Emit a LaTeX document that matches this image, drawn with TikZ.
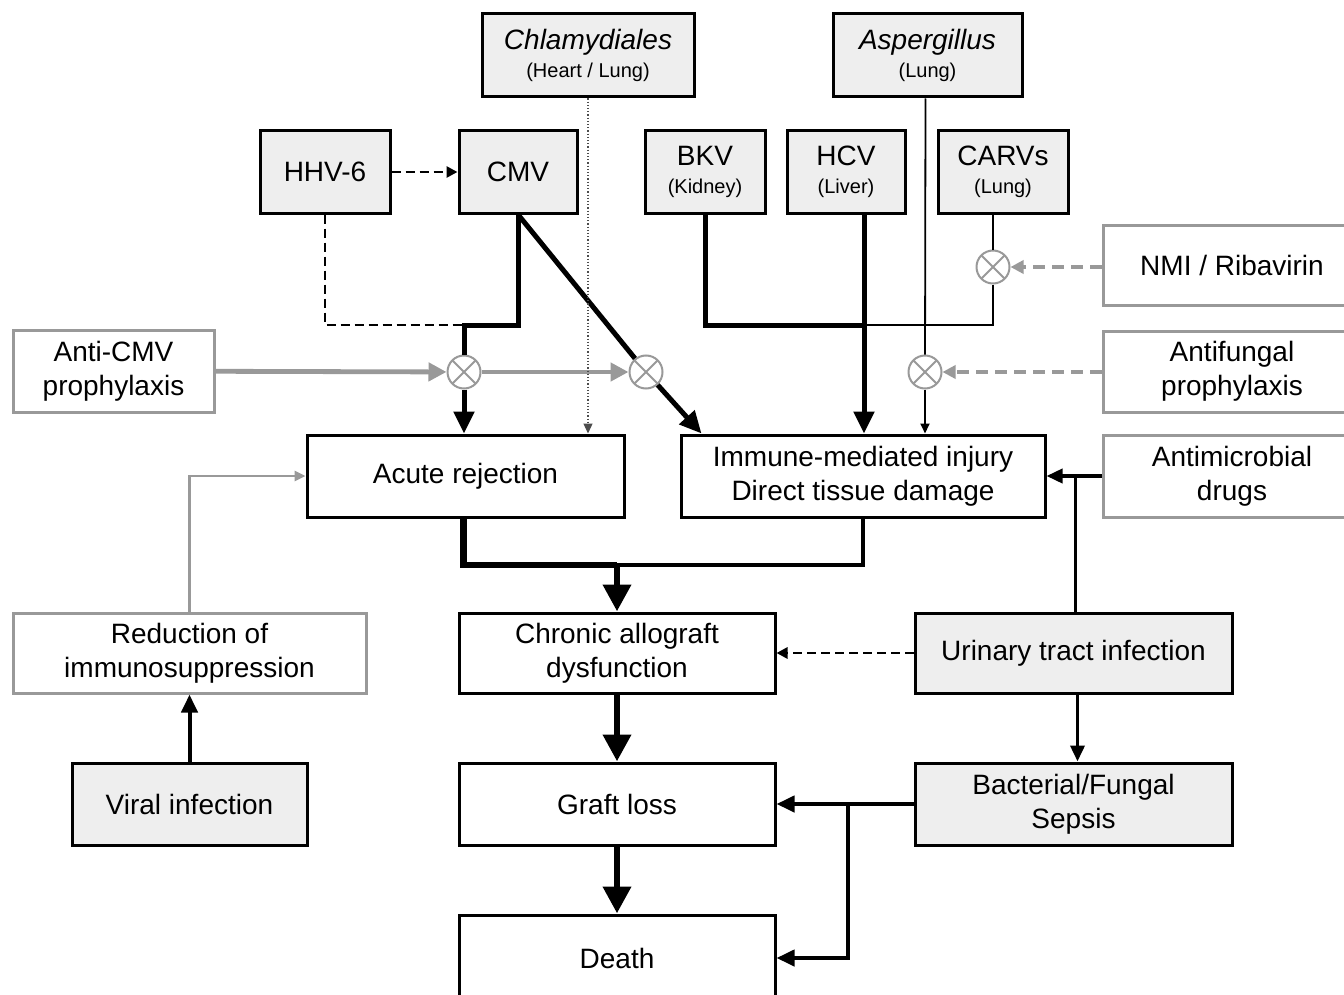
\documentclass[tikz,border=0pt]{standalone}
\usepackage{fontspec}
\setmainfont{Liberation Sans}
\usetikzlibrary{arrows.meta,calc}
\definecolor{fillg}{HTML}{EEEEEE}
\definecolor{lineg}{HTML}{999999}
\begin{document}
\begin{tikzpicture}[x=0.5pt,y=-0.5pt,
  box/.style={draw,line width=1.5pt,inner sep=0pt,align=center,font=\fontsize{14}{17}\selectfont},
  gbox/.style={box,fill=fillg},
  wbox/.style={box,fill=white},
  lbox/.style={box,draw=lineg,fill=white},
  xc/.style={circle,draw=lineg,line width=1pt,fill=white,minimum size=16.5pt,inner sep=0pt,
    path picture={\draw[lineg,line width=1pt] (path picture bounding box.north west) -- (path picture bounding box.south east)
      (path picture bounding box.north east) -- (path picture bounding box.south west);}},
  vthk/.style={line width=3.4pt,-{Triangle[length=13.5pt,width=13.5pt]}},
  vthkL/.style={line width=3.4pt},
  thk/.style={line width=2.5pt},
  thkA/.style={line width=2.5pt,-{Triangle[length=11pt,width=10pt]}},
  medA/.style={line width=2pt,-{Triangle[length=9pt,width=8pt]}},
  midA/.style={line width=1.8pt,-{Triangle[length=8pt,width=7pt]}},
  midL/.style={line width=1.6pt},
  thinL/.style={line width=0.9pt},
  thinA/.style={line width=0.9pt,-{Triangle[length=5pt,width=4.5pt]}},
  dotA/.style={line width=0.6pt,black!70,densely dotted,-{Triangle[length=5pt,width=4.5pt]}},
  dashL/.style={line width=1.4pt,dash pattern=on 4.5pt off 2.5pt},
  dashA/.style={line width=1.4pt,dash pattern=on 4.5pt off 2.5pt,-{Triangle[length=5.5pt,width=5.5pt]}},
  gA/.style={line width=2.4pt,lineg,-{Triangle[length=9pt,width=9pt]}},
  gdA/.style={line width=1.8pt,lineg,dash pattern=on 6pt off 3.5pt,-{Triangle[length=6.5pt,width=6.5pt]}},
  gtA/.style={line width=1.3pt,lineg,-{Triangle[length=5.5pt,width=5pt]}},
]
\useasboundingbox[fill=white] (0,0) rectangle (1344,995);

% top row
\node[gbox,minimum width=106pt,minimum height=41.5pt] (chl) at (588,55.5)
  {\textit{Chlamydiales}\\[-3pt]{\fontsize{10}{12}\selectfont(Heart / Lung)}};
\node[gbox,minimum width=94.5pt,minimum height=41.5pt] (asp) at (927.5,55.5)
  {\textit{Aspergillus}\\[-3pt]{\fontsize{10}{12}\selectfont(Lung)}};
\node[gbox,minimum width=65pt,minimum height=41pt] (hhv) at (325,172) {HHV-6};
\node[gbox,minimum width=59pt,minimum height=41pt] (cmv) at (518,172) {CMV};
\node[gbox,minimum width=60pt,minimum height=41pt] (bkv) at (705,172)
  {BKV\\[-3pt]{\fontsize{10}{12}\selectfont(Kidney)}};
\node[gbox,minimum width=59pt,minimum height=41pt] (hcv) at (846,172)
  {HCV\\[-3pt]{\fontsize{10}{12}\selectfont(Liver)}};
\node[gbox,minimum width=65pt,minimum height=41pt] (carvs) at (1003,172)
  {CARVs\\[-3pt]{\fontsize{10}{12}\selectfont(Lung)}};

% right column
\node[lbox,minimum width=129pt,minimum height=40pt] (nmi) at (1232,265) {NMI / Ribavirin};
\node[lbox,minimum width=129pt,minimum height=40.5pt] (antif) at (1232,371.5) {Antifungal\\prophylaxis};
\node[lbox,minimum width=129pt,minimum height=41pt] (antim) at (1232,476) {Antimicrobial\\drugs};

% left
\node[lbox,minimum width=100.5pt,minimum height=41pt] (acmv) at (113.5,371) {Anti-CMV\\prophylaxis};

% middle
\node[wbox,minimum width=158.5pt,minimum height=41pt] (acute) at (465.5,476) {Acute rejection};
\node[wbox,minimum width=182pt,minimum height=41pt] (immune) at (863,476) {Immune-mediated injury\\Direct tissue damage};
\node[lbox,minimum width=176.5pt,minimum height=40pt] (red) at (189.5,653) {Reduction of\\immunosuppression};
\node[wbox,minimum width=158pt,minimum height=40pt] (chronic) at (617,653) {Chronic allograft\\dysfunction};
\node[gbox,minimum width=158.5pt,minimum height=40pt] (uti) at (1073.5,653) {Urinary tract infection};
\node[gbox,minimum width=117.5pt,minimum height=41pt] (viral) at (189.5,804) {Viral infection};
\node[wbox,minimum width=158pt,minimum height=41pt] (graft) at (617,804) {Graft loss};
\node[gbox,minimum width=158.5pt,minimum height=41pt] (sepsis) at (1073.5,804) {Bacterial/Fungal\\Sepsis};
\node[wbox,minimum width=158pt,minimum height=43pt] (death) at (617,958) {Death};

% junction coordinates
\coordinate (j1) at (464,325);
\coordinate (j2) at (864,325);
\coordinate (j3) at (617,565);
\coordinate (j4) at (848,804);

% circles
\node[xc] (c1) at (464,372) {};
\node[xc] (c2) at (646,372) {};
\node[xc] (c3) at (993,267) {};
\node[xc] (c4) at (925,372) {};

% connectors
\draw[dashA] (hhv) -- (cmv);
\draw[dashL] (hhv.south) |- (j1);
\draw[thk] (cmv.south) |- (j1) -- (c1.north);
\draw[thkA] (c1.south) -- (c1 |- acute.north);
\draw[thk] (cmv.south) -- (c2);
\draw[thkA] (c2) -- ([xshift=11pt]immune.north west);
\draw[gA] (acmv) -- (c1);
\draw[gA] (c1) -- (c2);
\draw[dotA] (chl.south) -- (chl.south |- acute.north);
\draw[thinL] ([xshift=-1pt]asp.south) -- (c4);
\draw[thinA] (c4) -- (c4 |- immune.north);
\draw[thk] (bkv.south) |- (j2);
\draw[thkA] ([xshift=9pt]hcv.south) -- ([xshift=9pt]hcv.south |- immune.north);
\draw[line width=1pt] ([xshift=-5pt]carvs.south) -- (c3);
\draw[line width=1pt] (c3) |- (j2);
\draw[gdA] (nmi.west |- c3) -- (c3);
\draw[gdA] (antif.west |- c4) -- (c4);
\draw[midA] (antim.west) -- (immune.east);
\draw[midL] ([xshift=1pt]uti.north) -- ([xshift=1pt]uti.north |- antim.west);
\draw[vthkL] ([xshift=-1pt]acute.south) |- (j3);
\draw[vthk] (j3) -- (chronic.north);
\draw[midL] (immune.south) |- (j3);
\draw[dashA] (uti.west) -- (chronic.east);
\draw[midA] ([xshift=2pt]uti.south) -- ([xshift=2pt]sepsis.north);
\draw[medA] (sepsis.west) -- (graft.east);
\draw[medA] (j4) |- (death.east);
\draw[vthk] (chronic) -- (graft);
\draw[vthk] (graft) -- (death);
\draw[medA] (viral) -- (red);
\draw[gtA] (red.north) |- (acute.west);
\end{tikzpicture}
\end{document}
